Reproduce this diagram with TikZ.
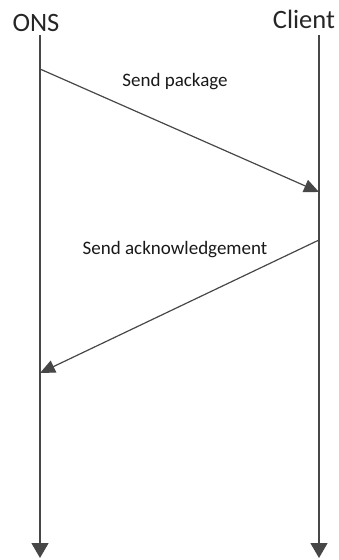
\documentclass[tikz,border=0pt]{standalone}
\usepackage{fontspec}
\setmainfont{Carlito}
\usetikzlibrary{arrows.meta}
\begin{document}
\begin{tikzpicture}[x=1pt,y=-1pt,
  lifeline/.style={draw=black!72, line width=1.4pt, -{Triangle[length=15pt,width=17pt]}},
  message/.style={draw=black!72, line width=1.2pt, -{Triangle[length=15pt,width=13pt]}},
  header/.style={inner sep=0pt, font=\fontsize{26.5}{28}\selectfont, text=black!85},
  msglabel/.style={inner sep=0pt, font=\fontsize{19}{20}\selectfont, text=black!90}]
  \useasboundingbox (0,0) rectangle (339,560);
  % participants
  \node[header] (ons) at (36,23) {ONS};
  \node[header] (client) at (304,19) {Client};
  % lifeline ends
  \coordinate (onsTop) at (40,35);
  \coordinate (onsBot) at (40,558);
  \coordinate (cliTop) at (319,35);
  \coordinate (cliBot) at (319,558);
  % message end points on the lifelines
  \coordinate (m1s) at (40,69);
  \coordinate (m1e) at (319,192);
  \coordinate (m2s) at (319,240);
  \coordinate (m2e) at (40,373);
  % lifelines
  \draw[lifeline] (onsTop) -- (onsBot);
  \draw[lifeline] (cliTop) -- (cliBot);
  % messages
  \draw[message] (m1s) -- (m1e);
  \draw[message] (m2s) -- (m2e);
  \node[msglabel] (l1) at (175,82) {Send package};
  \node[msglabel] (l2) at (175,250) {Send acknowledgement};
\end{tikzpicture}
\end{document}
